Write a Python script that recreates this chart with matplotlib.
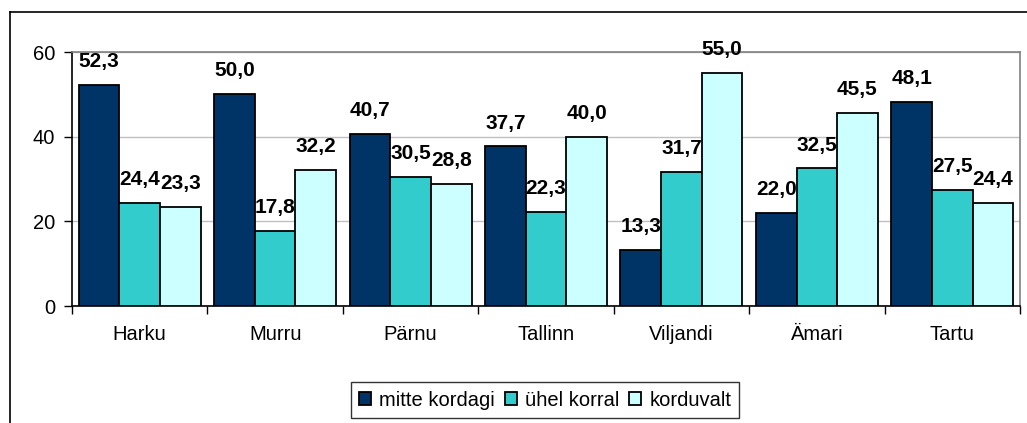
import matplotlib as mpl
mpl.use('Agg')

import matplotlib.pyplot as plt
import numpy as np
from matplotlib.lines import Line2D

plt.rcParams['font.family'] = ['Liberation Sans', 'DejaVu Sans']

categories = ["Harku", "Murru", "Pärnu", "Tallinn", "Viljandi", "Ämari", "Tartu"]
series_names = ["mitte kordagi", "ühel korral", "korduvalt"]
mitte_kordagi = [52.3, 50.0, 40.7, 37.7, 13.3, 22.0, 48.1]
uhel_korral = [24.4, 17.8, 30.5, 22.3, 31.7, 32.5, 27.5]
korduvalt = [23.3, 32.2, 28.8, 40.0, 55.0, 45.5, 24.4]
colors = ["#003366", "#33CCCC", "#CCFFFF"]

fig = plt.figure(figsize=(10.27, 4.23), dpi=100)
ax = fig.add_axes([72/1027, 1 - 306/423, (1020 - 72)/1027, (306 - 52)/423])

x = np.arange(len(categories))
w = 0.3
for i, (vals, name) in enumerate(zip([mitte_kordagi, uhel_korral, korduvalt], series_names)):
    bars = ax.bar(x + (i - 1) * w, vals, w, color=colors[i], edgecolor="black",
                  linewidth=1.3, label=name, zorder=3)
    for b, v in zip(bars, vals):
        ax.annotate(f"{v:.1f}".replace(".", ","), (b.get_x() + b.get_width()/2, v),
                    xytext=(0, 10), textcoords="offset points", ha="center", va="bottom",
                    fontsize=15, fontweight="bold", zorder=4)

ax.set_xlim(-0.5, len(categories) - 0.5)
ax.set_ylim(0, 60)
ax.set_yticks([0, 20, 40, 60])
ax.yaxis.grid(True, color="#c0c0c0", linewidth=1, zorder=0)
ax.set_xticks(x)
ax.set_xticklabels(categories)
ax.set_xticks(np.arange(len(categories) + 1) - 0.5, minor=True)
ax.tick_params(axis="x", which="major", length=0, pad=14, labelsize=14.5)
ax.tick_params(axis="x", which="minor", length=6, width=1, direction="out")
ax.tick_params(axis="y", length=6, width=1, pad=6, labelsize=14.5)

ax.spines["top"].set_color("#808080")
ax.spines["right"].set_color("#808080")
for s in ax.spines.values():
    s.set_linewidth(1.2)

leg = ax.legend(loc="center", bbox_to_anchor=(545/1027, 1 - 400/423), bbox_transform=fig.transFigure,
                ncol=3, frameon=True, fancybox=False, edgecolor="black", fontsize=14.5,
                handlelength=0.6, handleheight=0.6, handletextpad=0.4, columnspacing=0.5,
                borderpad=0.4, borderaxespad=0)
leg.get_frame().set_linewidth(1.0)

# outer chart border
fig.add_artist(Line2D([10/1027, 1.0], [1 - 12/423] * 2, color="black", linewidth=1.2,
                      transform=fig.transFigure))
fig.add_artist(Line2D([10/1027] * 2, [0.0, 1 - 12/423], color="black", linewidth=1.2,
                      transform=fig.transFigure))

plt.savefig("out.png", dpi=100)
